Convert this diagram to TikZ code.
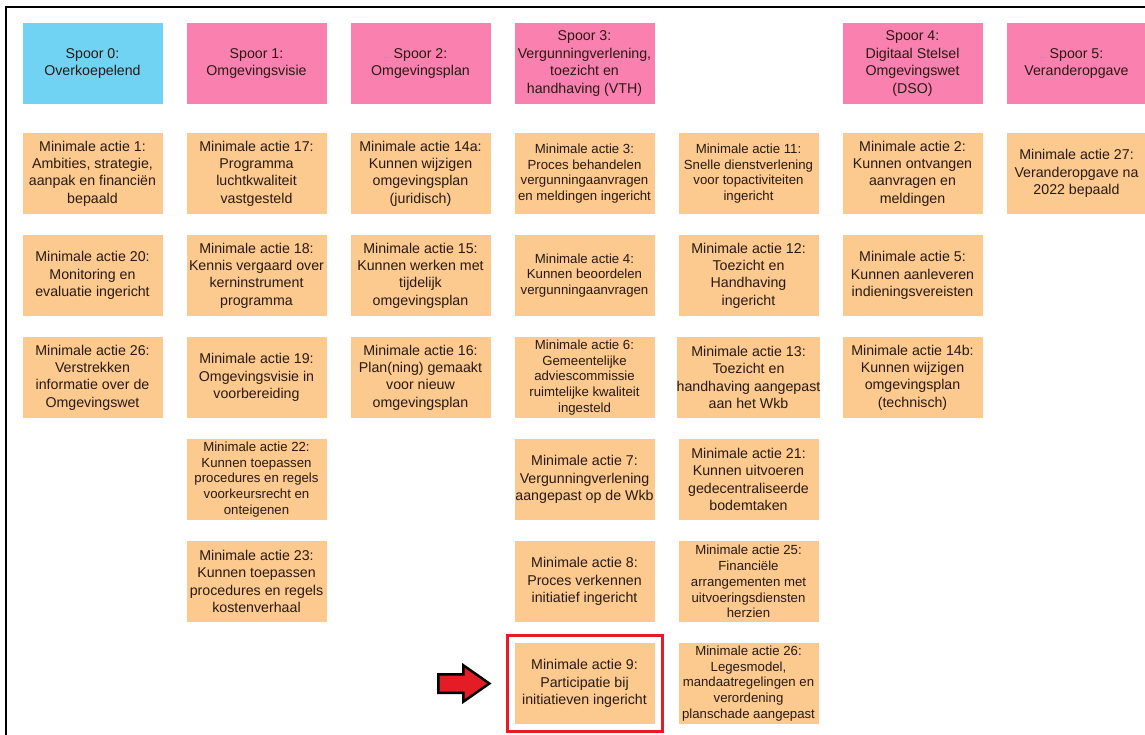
\documentclass[tikz,border=0pt]{standalone}
\usepackage{fontspec}
\setmainfont{Liberation Sans}
\usetikzlibrary{positioning,fit,shapes.arrows}
\definecolor{spoorblue}{RGB}{112,211,244}
\definecolor{spoorpink}{RGB}{250,128,176}
\definecolor{actieorange}{RGB}{252,201,143}
\definecolor{inkbrown}{RGB}{40,26,18}
\definecolor{markred}{RGB}{228,28,38}
\newcommand{\bigtxt}{\fontsize{14.2}{17.4}\selectfont}
\newcommand{\smalltxt}{\fontsize{13.2}{15.8}\selectfont}

\begin{document}
\begin{tikzpicture}[
 x=1pt,y=-1pt,
 node distance=21pt and 24pt,
 box/.style={align=center,minimum width=140pt,minimum height=81pt,inner sep=0pt,outer sep=0pt,text=inkbrown,font=\bigtxt},
 spoorbox/.style={box,fill=spoorpink},
 actie/.style={box,fill=actieorange},
 smallactie/.style={actie,font=\smalltxt},
 highlight/.style={draw=markred,line width=3pt,inner sep=7.5pt},
 pointer/.style={single arrow,draw=black,fill=markred,line width=2.5pt,minimum height=51pt,inner xsep=0pt,inner ysep=8pt,single arrow head extend=9pt,single arrow tip angle=70}
]
\useasboundingbox (0,0) rectangle (1145,735);
\draw[line width=2pt] (6,745) -- (6,7) -- (1155,7);

\node[box,fill=spoorblue] (s0) at (92.5,63.5) {Spoor 0:\\Overkoepelend};
\node[spoorbox,right=of s0] (s1) {Spoor 1:\\Omgevingsvisie};
\node[spoorbox,right=of s1] (s2) {Spoor 2:\\Omgevingsplan};
\node[spoorbox,right=of s2] (s3) {Spoor 3:\\Vergunningverlening,\\toezicht en\\handhaving (VTH)};
\node[spoorbox,right=188pt of s3] (s4) {Spoor 4:\\Digitaal Stelsel\\Omgevingswet\\(DSO)};
\node[spoorbox,right=of s4] (s5) {Spoor 5:\\Veranderopgave};

\node[actie,below=29pt of s0] (a1) {Minimale actie 1:\\Ambities, strategie,\\aanpak en financiën\\bepaald};
\node[actie,below=of a1] (a20) {Minimale actie 20:\\Monitoring en\\evaluatie ingericht};
\node[actie,below=of a20] (a26) {Minimale actie 26:\\Verstrekken\\informatie over de\\Omgevingswet};

\node[actie,below=29pt of s1] (a17) {Minimale actie 17:\\Programma\\luchtkwaliteit\\vastgesteld};
\node[actie,below=of a17] (a18) {Minimale actie 18:\\Kennis vergaard over\\kerninstrument\\programma};
\node[actie,below=of a18] (a19) {Minimale actie 19:\\Omgevingsvisie in\\voorbereiding};
\node[smallactie,below=of a19] (a22) {Minimale actie 22:\\Kunnen toepassen\\procedures en regels\\voorkeursrecht en\\onteigenen};
\node[actie,below=of a22] (a23) {Minimale actie 23:\\Kunnen toepassen\\procedures en regels\\kostenverhaal};

\node[actie,below=29pt of s2] (a14a) {Minimale actie 14a:\\Kunnen wijzigen\\omgevingsplan\\(juridisch)};
\node[actie,below=of a14a] (a15) {Minimale actie 15:\\Kunnen werken met\\tijdelijk\\omgevingsplan};
\node[actie,below=of a15] (a16) {Minimale actie 16:\\Plan(ning) gemaakt\\voor nieuw\\omgevingsplan};

\node[smallactie,below=29pt of s3] (a3) {Minimale actie 3:\\Proces behandelen\\vergunningaanvragen\\en meldingen ingericht};
\node[smallactie,below=of a3] (a4) {Minimale actie 4:\\Kunnen beoordelen\\vergunningaanvragen};
\node[smallactie,below=of a4] (a6) {Minimale actie 6:\\Gemeentelijke\\adviescommissie\\ruimtelijke kwaliteit\\ingesteld};
\node[actie,below=of a6] (a7) {Minimale actie 7:\\Vergunningverlening\\aangepast op de Wkb};
\node[actie,below=of a7] (a8) {Minimale actie 8:\\Proces verkennen\\initiatief ingericht};
\node[actie,below=of a8] (a9) {Minimale actie 9:\\Participatie bij\\initiatieven ingericht};

\node[smallactie,right=of a3] (a11) {Minimale actie 11:\\Snelle dienstverlening\\voor topactiviteiten\\ingericht};
\node[actie,below=of a11] (a12) {Minimale actie 12:\\Toezicht en\\Handhaving\\ingericht};
\node[actie,below=of a12] (a13) {Minimale actie 13:\\Toezicht en\\handhaving aangepast\\aan het Wkb};
\node[actie,below=of a13] (a21) {Minimale actie 21:\\Kunnen uitvoeren\\gedecentraliseerde\\bodemtaken};
\node[smallactie,below=of a21] (a25) {Minimale actie 25:\\Financiële\\arrangementen met\\uitvoeringsdiensten\\herzien};
\node[smallactie,below=of a25] (a26b) {Minimale actie 26:\\Legesmodel,\\mandaatregelingen en\\verordening\\planschade aangepast};

\node[actie,below=29pt of s4] (a2) {Minimale actie 2:\\Kunnen ontvangen\\aanvragen en\\meldingen};
\node[actie,below=of a2] (a5) {Minimale actie 5:\\Kunnen aanleveren\\indieningsvereisten};
\node[actie,below=of a5] (a14b) {Minimale actie 14b:\\Kunnen wijzigen\\omgevingsplan\\(technisch)};

\node[actie,below=29pt of s5] (a27) {Minimale actie 27:\\Veranderopgave na\\2022 bepaald};

\node[highlight,fit=(a9)] (hl) {};
\node[pointer,left=14pt of hl] (ptr) {};
\end{tikzpicture}
\end{document}
